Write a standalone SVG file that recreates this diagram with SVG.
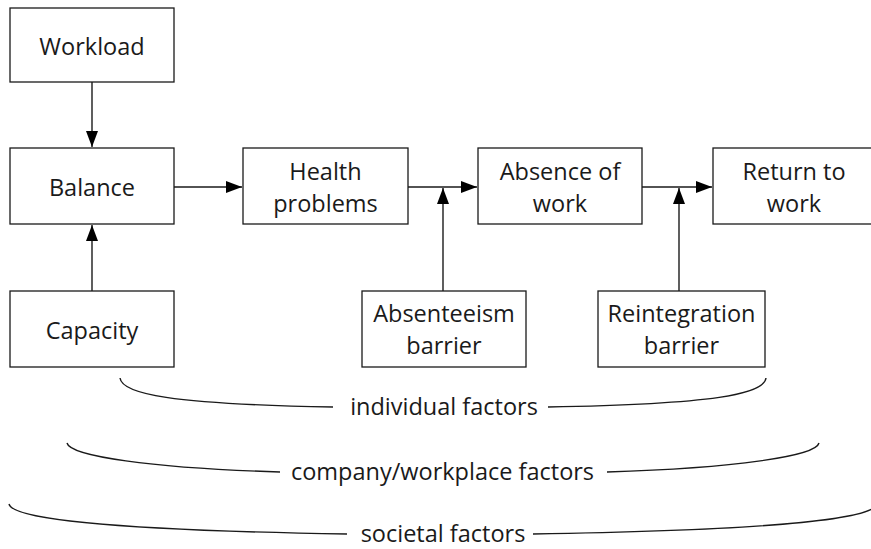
<svg xmlns="http://www.w3.org/2000/svg" width="871" height="549" viewBox="0 0 871 549">
<defs>
<style>
rect{fill:#fff;stroke:#1a1a1a;stroke-width:1.3}
text{font-family:"Open Sans","Noto Sans",sans-serif;font-size:23.5px;fill:#1a1a1a;text-anchor:middle}
.c{fill:none;stroke:#1a1a1a;stroke-width:1.4}
</style>
<marker id="ah" markerUnits="userSpaceOnUse" markerWidth="17" markerHeight="12" refX="16" refY="6" orient="auto">
<path d="M0,0 L16,6 L0,12 Z" fill="#000"/>
</marker>
</defs>
<rect x="0" y="0" width="871" height="549" style="stroke:none;fill:#fff"/>
<g id="connectors">
<line class="c" x1="92" y1="82" x2="92" y2="147" marker-end="url(#ah)"/>
<line class="c" x1="92" y1="291" x2="92" y2="225" marker-end="url(#ah)"/>
<line class="c" x1="174" y1="187" x2="242" y2="187" marker-end="url(#ah)"/>
<line class="c" x1="408" y1="187" x2="477" y2="187" marker-end="url(#ah)"/>
<line class="c" x1="642" y1="187" x2="712" y2="187" marker-end="url(#ah)"/>
<line class="c" x1="443" y1="291" x2="443" y2="188" marker-end="url(#ah)"/>
<line class="c" x1="679" y1="291" x2="679" y2="188" marker-end="url(#ah)"/>
</g>
<g id="workload"><rect x="10" y="8" width="164" height="74"/><text x="92" y="55">Workload</text></g>
<g id="balance"><rect x="10" y="148" width="164" height="76"/><text x="92" y="196">Balance</text></g>
<g id="capacity"><rect x="10" y="291" width="164" height="76"/><text x="92" y="339">Capacity</text></g>
<g id="health"><rect x="243" y="148" width="165" height="76"/><text x="325.5" y="180">Health</text><text x="325.5" y="212">problems</text></g>
<g id="absence"><rect x="478" y="148" width="164" height="76"/><text x="560" y="180">Absence of</text><text x="560" y="212">work</text></g>
<g id="return"><rect x="713" y="148" width="164" height="76"/><text x="794" y="180">Return to</text><text x="794" y="212">work</text></g>
<g id="absenteeism"><rect x="362" y="291" width="164" height="76"/><text x="444" y="322">Absenteeism</text><text x="444" y="354">barrier</text></g>
<g id="reintegration"><rect x="598" y="291" width="167" height="76"/><text x="681.5" y="322">Reintegration</text><text x="681.5" y="354">barrier</text></g>
<g id="individual">
<path class="c" d="M120,378 C122,394 170,404 333,407"/>
<path class="c" d="M548,407 C716,404 764,394 766,378"/>
<text x="444" y="415">individual factors</text>
</g>
<g id="company">
<path class="c" d="M67,443 C70,456 150,468 280,472"/>
<path class="c" d="M607,472 C736,468 816,456 819,443"/>
<text x="442.5" y="480">company/workplace factors</text>
</g>
<g id="societal">
<path class="c" d="M9,504 C12,518 100,530 347,534"/>
<path class="c" d="M533,534 C786,530 874,518 877,504"/>
<text x="443" y="542">societal factors</text>
</g>
</svg>
